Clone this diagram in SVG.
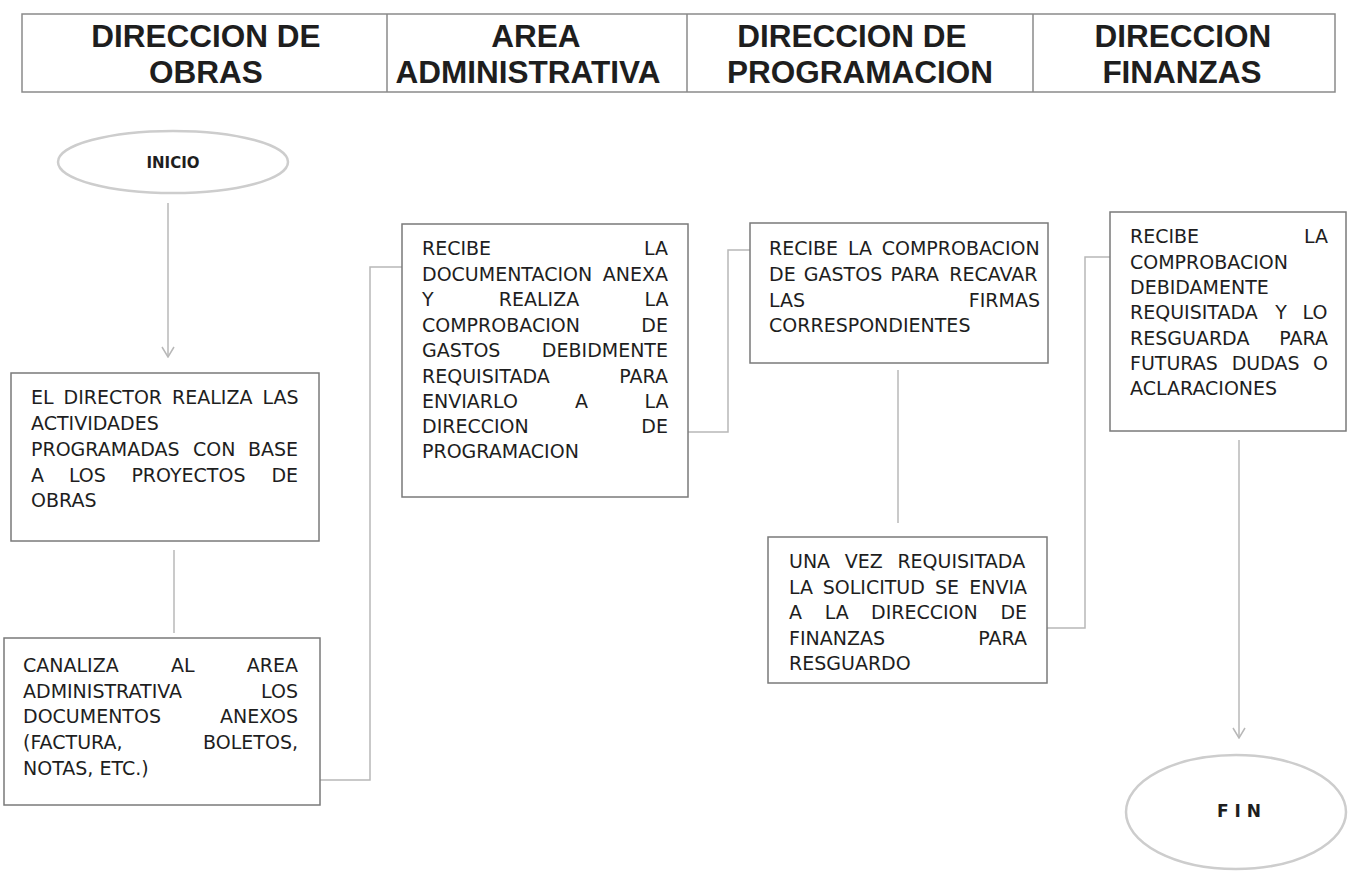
<svg xmlns="http://www.w3.org/2000/svg" width="1348" height="876" viewBox="0 0 1348 876">
<style>
.hdr{font-family:"Liberation Sans",Arial,sans-serif;font-weight:bold;font-size:31.5px;fill:#1e1e1e;text-anchor:middle}
.t{font-family:"DejaVu Sans",Verdana,sans-serif;font-size:19px;fill:#1e1e1e}
.e{text-anchor:end}
.box{fill:#fff;stroke:#7a7a7a;stroke-width:1.5}
.ell{fill:#fff;stroke:#cdcdcd;stroke-width:2.5}
.lbl{font-family:"DejaVu Sans",Verdana,sans-serif;font-weight:bold;fill:#1e1e1e;text-anchor:middle}
.con{fill:none;stroke:#b8b8b8;stroke-width:1.5}
</style>
<defs>
<marker id="arr" viewBox="0 0 14 14" refX="13" refY="7" markerWidth="14" markerHeight="14" markerUnits="userSpaceOnUse" orient="auto">
<polyline points="3,1 13,7 3,13" fill="none" stroke="#b8b8b8" stroke-width="1.5"/>
</marker>
</defs>
<rect width="1348" height="876" fill="#fff"/>

<g id="header">
<rect x="22" y="14" width="1313" height="78" fill="none" stroke="#8a8a8a" stroke-width="1.5"/>
<line x1="387" y1="14" x2="387" y2="92" stroke="#8a8a8a" stroke-width="1.5"/>
<line x1="687" y1="14" x2="687" y2="92" stroke="#8a8a8a" stroke-width="1.5"/>
<line x1="1033" y1="14" x2="1033" y2="92" stroke="#8a8a8a" stroke-width="1.5"/>
<text class="hdr" x="206" y="47">DIRECCION DE</text>
<text class="hdr" x="206" y="83">OBRAS</text>
<text class="hdr" x="536" y="47">AREA</text>
<text class="hdr" x="528" y="83">ADMINISTRATIVA</text>
<text class="hdr" x="852" y="47">DIRECCION DE</text>
<text class="hdr" x="860" y="83">PROGRAMACION</text>
<text class="hdr" x="1183" y="47">DIRECCION</text>
<text class="hdr" x="1182" y="83">FINANZAS</text>
</g>

<g id="connectors">
<line class="con" x1="168" y1="203" x2="168" y2="357" marker-end="url(#arr)"/>
<line class="con" x1="174" y1="550" x2="174" y2="633"/>
<polyline class="con" points="320,780 370,780 370,267 402,267"/>
<polyline class="con" points="688,432 728,432 728,250 750,250"/>
<line class="con" x1="898" y1="370" x2="898" y2="523"/>
<polyline class="con" points="1047,628 1085,628 1085,257 1110,257"/>
<line class="con" x1="1239" y1="440" x2="1239" y2="738" marker-end="url(#arr)"/>
</g>

<g id="inicio">
<ellipse class="ell" cx="173" cy="162" rx="115" ry="31"/>
<text class="lbl" x="173" y="168" font-size="15">INICIO</text>
</g>

<g id="box1">
<rect class="box" x="11" y="373" width="308" height="168"/>
<text class="t" y="404"><tspan x="31">EL</tspan><tspan x="63.6">DIRECTOR</tspan><tspan x="172">REALIZA</tspan><tspan x="262.4">LAS</tspan></text>
<text class="t" x="31" y="430">ACTIVIDADES</text>
<text class="t" y="456"><tspan x="31">PROGRAMADAS</tspan><tspan x="193">CON</tspan><tspan x="247.9">BASE</tspan></text>
<text class="t" y="482"><tspan x="31">A</tspan><tspan x="68.9">LOS</tspan><tspan x="131.4">PROYECTOS</tspan><tspan x="271.4">DE</tspan></text>
<text class="t" x="31" y="507">OBRAS</text>
</g>

<g id="box2">
<rect class="box" x="4" y="638" width="316" height="167"/>
<text class="t" y="672"><tspan x="23">CANALIZA</tspan><tspan x="171">AL</tspan><tspan x="246.8">AREA</tspan></text>
<text class="t" x="23" y="697.5">ADMINISTRATIVA</text><text class="t e" x="298" y="697.5">LOS</text>
<text class="t" x="23" y="723">DOCUMENTOS</text><text class="t e" x="298" y="723">ANEXOS</text>
<text class="t" x="23" y="749">(FACTURA,</text><text class="t e" x="298" y="749">BOLETOS,</text>
<text class="t" x="23" y="775">NOTAS, ETC.)</text>
</g>

<g id="box3">
<rect class="box" x="402" y="224" width="286" height="273"/>
<text class="t" x="422" y="255">RECIBE</text><text class="t e" x="668" y="255">LA</text>
<text class="t" x="422" y="280.5">DOCUMENTACION</text><text class="t e" x="668" y="280.5">ANEXA</text>
<text class="t" y="306"><tspan x="422">Y</tspan><tspan x="498.8">REALIZA</tspan><tspan x="644.4">LA</tspan></text>
<text class="t" x="422" y="331.5">COMPROBACION</text><text class="t e" x="668" y="331.5">DE</text>
<text class="t" x="422" y="357">GASTOS</text><text class="t e" x="668" y="357">DEBIDMENTE</text>
<text class="t" x="422" y="382.5">REQUISITADA</text><text class="t e" x="668" y="382.5">PARA</text>
<text class="t" y="408"><tspan x="422">ENVIARLO</tspan><tspan x="575">A</tspan><tspan x="644.4">LA</tspan></text>
<text class="t" x="422" y="433">DIRECCION</text><text class="t e" x="668" y="433">DE</text>
<text class="t" x="422" y="458">PROGRAMACION</text>
</g>

<g id="box4">
<rect class="box" x="750" y="223" width="298" height="140"/>
<text class="t" y="255"><tspan x="769">RECIBE</tspan><tspan x="848">LA</tspan><tspan x="881.7">COMPROBACION</tspan></text>
<text class="t" y="281"><tspan x="769">DE</tspan><tspan x="803.8">GASTOS</tspan><tspan x="890.4">PARA</tspan><tspan x="949.3">RECAVAR</tspan></text>
<text class="t" x="769" y="307">LAS</text><text class="t e" x="1040" y="307">FIRMAS</text>
<text class="t" x="769" y="332">CORRESPONDIENTES</text>
</g>

<g id="box5">
<rect class="box" x="768" y="537" width="279" height="146"/>
<text class="t" y="568"><tspan x="789">UNA</tspan><tspan x="844.8">VEZ</tspan><tspan x="897.4">REQUISITADA</tspan></text>
<text class="t" y="593.5"><tspan x="789">LA</tspan><tspan x="822.7">SOLICITUD</tspan><tspan x="935">SE</tspan><tspan x="969.2">ENVIA</tspan></text>
<text class="t" y="619"><tspan x="789">A</tspan><tspan x="824.7">LA</tspan><tspan x="871">DIRECCION</tspan><tspan x="1000.4">DE</tspan></text>
<text class="t" x="789" y="644.5">FINANZAS</text><text class="t e" x="1027" y="644.5">PARA</text>
<text class="t" x="789" y="670">RESGUARDO</text>
</g>

<g id="box6">
<rect class="box" x="1110" y="212" width="236" height="219"/>
<text class="t" x="1130" y="243">RECIBE</text><text class="t e" x="1328" y="243">LA</text>
<text class="t" x="1130" y="268.5">COMPROBACION</text>
<text class="t" x="1130" y="294">DEBIDAMENTE</text>
<text class="t" y="319"><tspan x="1130">REQUISITADA</tspan><tspan x="1275.3">Y</tspan><tspan x="1302.5">LO</tspan></text>
<text class="t" x="1130" y="344.5">RESGUARDA</text><text class="t e" x="1328" y="344.5">PARA</text>
<text class="t" y="370"><tspan x="1130">FUTURAS</tspan><tspan x="1231.7">DUDAS</tspan><tspan x="1313">O</tspan></text>
<text class="t" x="1130" y="395">ACLARACIONES</text>
</g>

<g id="fin">
<ellipse class="ell" cx="1236" cy="812" rx="110" ry="57"/>
<text class="lbl" x="1239" y="817" font-size="17">F I N</text>
</g>
</svg>
